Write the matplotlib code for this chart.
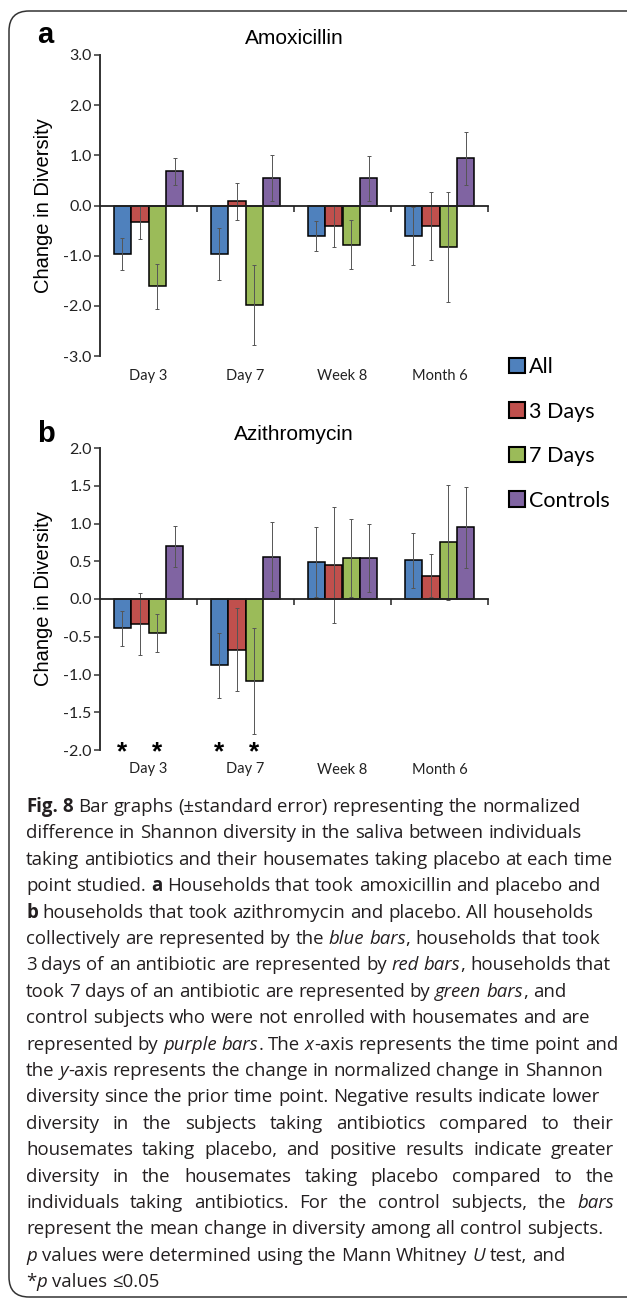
import numpy as np
import matplotlib
matplotlib.use("Agg")
import matplotlib.pyplot as plt
from matplotlib.patches import Patch, FancyBboxPatch

categories = ["Day 3", "Day 7", "Week 8", "Month 6"]
series = ["All", "3 Days", "7 Days", "Controls"]
colors = ["#4F81BD", "#C0504D", "#9BBB59", "#8064A2"]

# panel a: amoxicillin
amox_all = [-0.97, -0.96, -0.60, -0.60]
amox_3d = [-0.33, 0.08, -0.41, -0.41]
amox_7d = [-1.61, -1.99, -0.78, -0.83]
amox_ctrl = [0.68, 0.55, 0.54, 0.94]
amox_all_se = [0.32, 0.52, 0.30, 0.58]
amox_3d_se = [0.33, 0.37, 0.41, 0.68]
amox_7d_se = [0.45, 0.80, 0.49, 1.09]
amox_ctrl_se = [0.27, 0.46, 0.45, 0.53]

# panel b: azithromycin
azi_all = [-0.39, -0.88, 0.49, 0.51]
azi_3d = [-0.33, -0.67, 0.45, 0.31]
azi_7d = [-0.45, -1.09, 0.54, 0.75]
azi_ctrl = [0.70, 0.56, 0.54, 0.95]
azi_all_se = [0.23, 0.43, 0.46, 0.36]
azi_3d_se = [0.41, 0.55, 0.77, 0.28]
azi_7d_se = [0.25, 0.70, 0.52, 0.76]
azi_ctrl_se = [0.27, 0.46, 0.45, 0.54]
azi_sig = [[True, True, False, False], [False] * 4,
           [True, True, False, False], [False] * 4]

W, H = 627, 1299
fig = plt.figure(figsize=(W / 100, H / 100), dpi=100)

tick_font = ["Lato", "DejaVu Sans"]
arial = ["Liberation Sans", "DejaVu Sans"]
bw = 0.18


def draw_panel(rect, values, errors, ylim, yticks, title, pad, sig=None):
    ax = fig.add_axes(rect)
    x = np.arange(len(categories))
    for i, (vals, errs) in enumerate(zip(values, errors)):
        xs = x + (i - 1.5) * bw
        ax.bar(xs, vals, bw, color=colors[i], edgecolor="black",
               linewidth=1.1, zorder=2)
        ax.errorbar(xs, vals, yerr=errs, fmt="none", ecolor="#555555",
                    elinewidth=0.7, capsize=1.5, capthick=0.7, zorder=3)
        if sig is not None:
            for xi, s in zip(xs, sig[i]):
                if s:
                    ax.annotate("*", (xi, ylim[0]), xytext=(0, -7),
                                textcoords="offset points", ha="center",
                                va="baseline", fontsize=19, weight="bold",
                                family=arial, annotation_clip=False)
    ax.set_xlim(-0.5, len(categories) - 0.5)
    ax.set_ylim(*ylim)
    ax.set_yticks(yticks)
    ax.set_yticklabels([f"{t:.1f}" for t in yticks], family=tick_font,
                       fontsize=11.5, color="#222222")
    for s in ["top", "right"]:
        ax.spines[s].set_visible(False)
    ax.spines["left"].set_linewidth(1.4)
    ax.spines["left"].set_color("#333333")
    ax.spines["bottom"].set_position(("data", 0))
    ax.spines["bottom"].set_linewidth(1.3)
    ax.spines["bottom"].set_color("#222222")
    ax.spines["bottom"].set_zorder(4)
    ax.set_xticks(x + 0.5)
    ax.set_xticklabels([])
    ax.tick_params(axis="x", direction="out", length=4, width=1.1,
                   color="#222222")
    ax.tick_params(axis="y", direction="out", length=4, width=1.1,
                   color="#333333", pad=2)
    sec = ax.secondary_xaxis(0)
    sec.set_xticks(x)
    sec.set_xticklabels(categories, family=tick_font, fontsize=10.5,
                        color="#222222")
    sec.tick_params(length=0, pad=9)
    sec.spines["bottom"].set_visible(False)
    ax.set_ylabel("Change in Diversity", family=arial, fontsize=14.5)
    ax.yaxis.set_label_coords(-0.122, 0.5)
    ax.set_title(title, family=arial, fontsize=15, pad=pad)
    return ax


ax_a = draw_panel([100 / W, 1 - 356 / H, 388 / W, 301 / H],
                  [amox_all, amox_3d, amox_7d, amox_ctrl],
                  [amox_all_se, amox_3d_se, amox_7d_se, amox_ctrl_se],
                  (-3, 3), np.arange(-3, 3.1, 1.0), "Amoxicillin", 8)
ax_b = draw_panel([100 / W, 1 - 750 / H, 388 / W, 302 / H],
                  [azi_all, azi_3d, azi_7d, azi_ctrl],
                  [azi_all_se, azi_3d_se, azi_7d_se, azi_ctrl_se],
                  (-2, 2), np.arange(-2, 2.01, 0.5), "Azithromycin", 6,
                  sig=azi_sig)

fig.text(37 / W, 1 - 43 / H, "a", family=arial, fontsize=21,
         weight="bold", va="baseline")
fig.text(37 / W, 1 - 442 / H, "b", family=arial, fontsize=21,
         weight="bold", va="baseline")

handles = [Patch(facecolor=c, edgecolor="black", linewidth=1.5) for c in colors]
fig.legend(handles, series, loc="upper left",
           bbox_to_anchor=(509 / W, 1 - 357 / H), frameon=False,
           prop={"family": tick_font, "size": 15.5}, handlelength=0.72,
           handleheight=0.72, handletextpad=0.2, labelspacing=1.14,
           borderpad=0, borderaxespad=0)

# caption
caption = [
    ([("Fig. 8", "b"), (" Bar graphs (\u00b1standard error) representing the normalized", "n")], False),
    ([("difference in Shannon diversity in the saliva between individuals", "n")], False),
    ([("taking antibiotics and their housemates taking placebo at each time", "n")], False),
    ([("point studied. ", "n"), ("a", "b"), (" Households that took amoxicillin and placebo and", "n")], False),
    ([("b", "b"), (" households that took azithromycin and placebo. All households", "n")], False),
    ([("collectively are represented by the ", "n"), ("blue bars", "i"), (", households that took", "n")], False),
    ([("3 days of an antibiotic are represented by ", "n"), ("red bars", "i"), (", households that", "n")], False),
    ([("took 7 days of an antibiotic are represented by ", "n"), ("green bars", "i"), (", and", "n")], False),
    ([("control subjects who were not enrolled with housemates and are", "n")], False),
    ([("represented by ", "n"), ("purple bars", "i"), (". The ", "n"), ("x", "i"), ("-axis represents the time point and", "n")], False),
    ([("the ", "n"), ("y", "i"), ("-axis represents the change in normalized change in Shannon", "n")], False),
    ([("diversity since the prior time point. Negative results indicate lower", "n")], False),
    ([("diversity in the subjects taking antibiotics compared to their", "n")], True),
    ([("housemates taking placebo, and positive results indicate greater", "n")], True),
    ([("diversity in the housemates taking placebo compared to the", "n")], True),
    ([("individuals taking antibiotics. For the control subjects, the ", "n"), ("bars", "i")], True),
    ([("represent the mean change in diversity among all control subjects.", "n")], False),
    ([("p", "i"), (" values were determined using the Mann Whitney ", "n"), ("U", "i"), (" test, and", "n")], False),
    ([("*", "n"), ("p", "i"), (" values \u22640.05", "n")], False),
]
styles = {"n": {}, "b": {"weight": "bold"}, "i": {"style": "italic"}}
cap_font = ["Open Sans", "DejaVu Sans"]
renderer = fig.canvas.get_renderer()


def measure(s, size, st):
    t = fig.text(0, 0, s, family=cap_font, fontsize=size, **styles[st])
    w = t.get_window_extent(renderer).width
    t.remove()
    return w


fs = 10 * 588 / measure(caption[2][0][0][0], 10, "n")
space = measure("n n", fs, "n") - measure("nn", fs, "n")
left, right = 26, 614
y0, dy = 812, 26.4

for k, (runs, justify) in enumerate(caption):
    words = []
    pending = False
    for text, st in runs:
        parts = text.split(" ")
        for j, p in enumerate(parts):
            if j > 0:
                pending = True
            if p == "":
                continue
            words.append([p, st, pending and len(words) > 0])
            pending = False
    widths = [measure(p, fs, st) for p, st, g in words]
    ngaps = sum(1 for w in words if w[2])
    sp = space
    if justify and ngaps:
        sp = (right - left - sum(widths)) / ngaps
    x = left
    ybase = 1 - (y0 + k * dy) / H
    for (p, st, gap), w in zip(words, widths):
        if gap:
            x += sp
        fig.text(x / W, ybase, p, family=cap_font, fontsize=fs,
                 va="baseline", color="#231f20", **styles[st])
        x += w

frame = FancyBboxPatch((0.09, 0.02), 6.6, 12.86,
                       boxstyle="round,pad=0,rounding_size=0.2",
                       transform=fig.dpi_scale_trans, fill=False,
                       linewidth=1.1, edgecolor="#333333")
fig.add_artist(frame)

fig.savefig("out.png", dpi=100)
